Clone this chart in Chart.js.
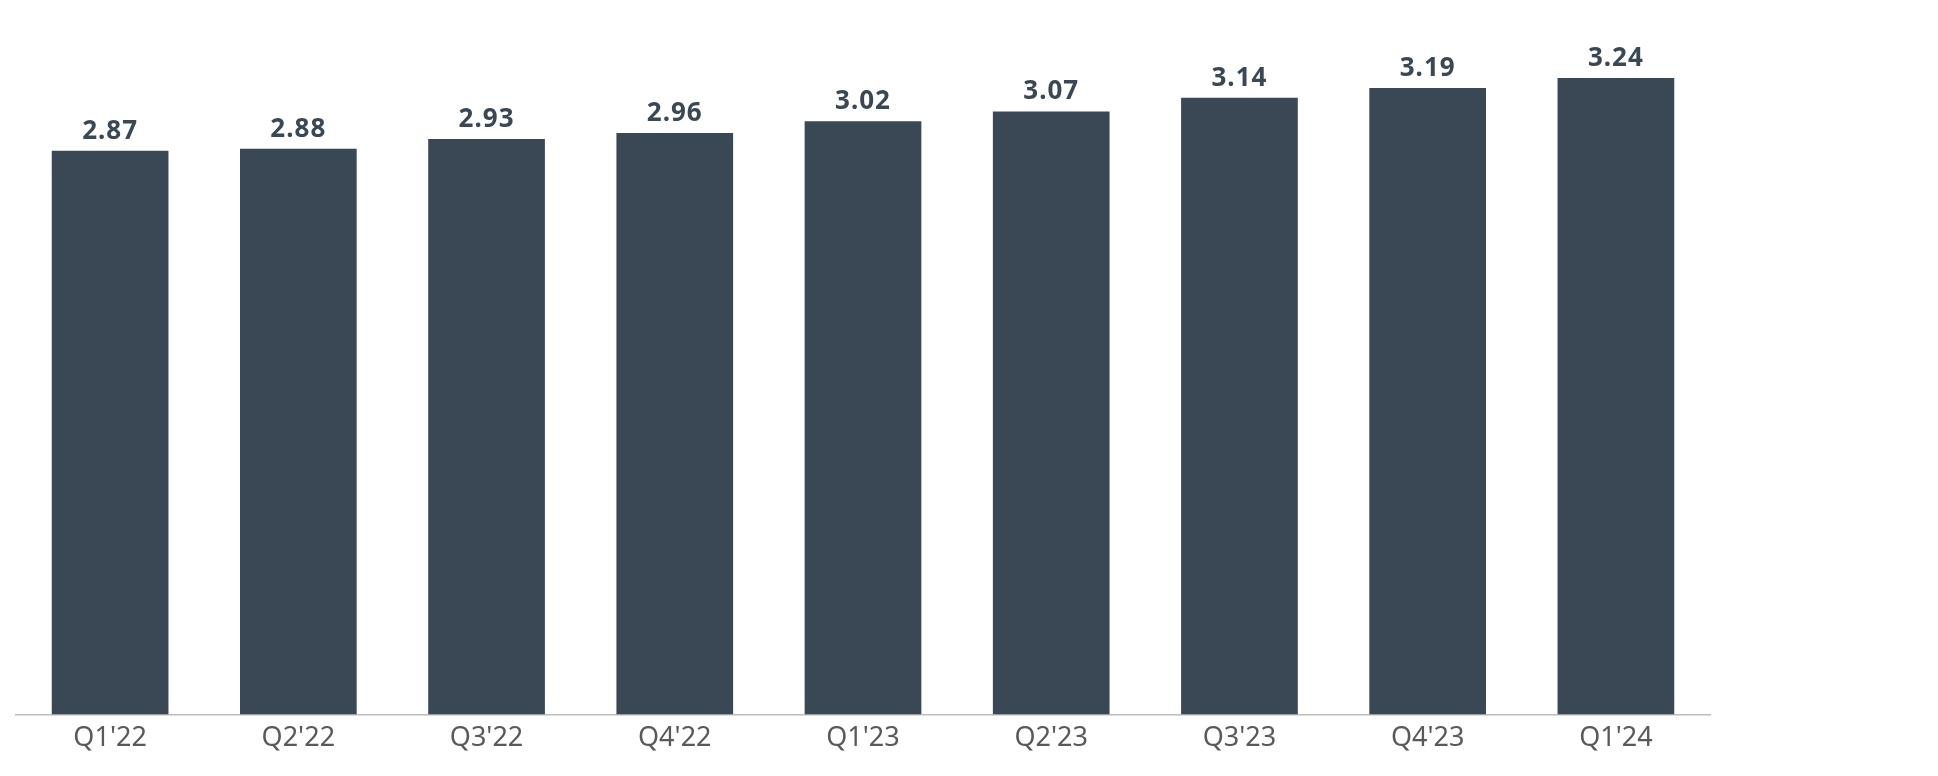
<!DOCTYPE html>
<html>
<head>
<meta charset="utf-8">
<script src="https://cdn.jsdelivr.net/npm/chart.js@4/dist/chart.umd.min.js"></script>
<style>
    html, body { margin: 0; padding: 0; background: #fff; }
    #wrap { width: 1938px; height: 776px; }
</style>
</head>
<body>
<div id="wrap"><canvas id="chart" width="1938" height="776"></canvas></div>
<script>
const quarters = ["Q1'22", "Q2'22", "Q3'22", "Q4'22", "Q1'23", "Q2'23", "Q3'23", "Q4'23", "Q1'24"];
const values = [2.87, 2.88, 2.93, 2.96, 3.02, 3.07, 3.14, 3.19, 3.24];

const barColor = '#3a4754';

// draws the value above each bar
const valueLabels = {
    id: 'valueLabels',
    afterDatasetsDraw(chart) {
        const ctx = chart.ctx;
        const meta = chart.getDatasetMeta(0);
        ctx.save();
        ctx.font = 'bold 26px "Noto Sans", sans-serif';
        ctx.letterSpacing = '1px';
        ctx.fillStyle = barColor;
        ctx.textAlign = 'center';
        ctx.textBaseline = 'alphabetic';
        meta.data.forEach((bar, i) => {
            ctx.fillText(values[i].toFixed(2), bar.x, bar.y - 12);
        });
        ctx.restore();
    }
};

new Chart(document.getElementById('chart'), {
    type: 'bar',
    data: {
        labels: quarters,
        datasets: [{
            data: values,
            backgroundColor: barColor,
            categoryPercentage: 1,
            barPercentage: 0.62
        }]
    },
    options: {
        responsive: false,
        animation: false,
        layout: { padding: { left: 16, right: 228, top: 27, bottom: 21 } },
        plugins: { legend: { display: false }, tooltip: { enabled: false } },
        scales: {
            y: { display: false, min: 0, max: 3.5 },
            x: {
                grid: { display: false },
                border: { display: true, color: '#bdbdbd', width: 1.5 },
                ticks: {
                    color: '#595959',
                    padding: 0,
                    font: { family: '"Noto Sans", sans-serif', size: 27 }
                }
            }
        }
    },
    plugins: [valueLabels]
});
</script>
</body>
</html>
